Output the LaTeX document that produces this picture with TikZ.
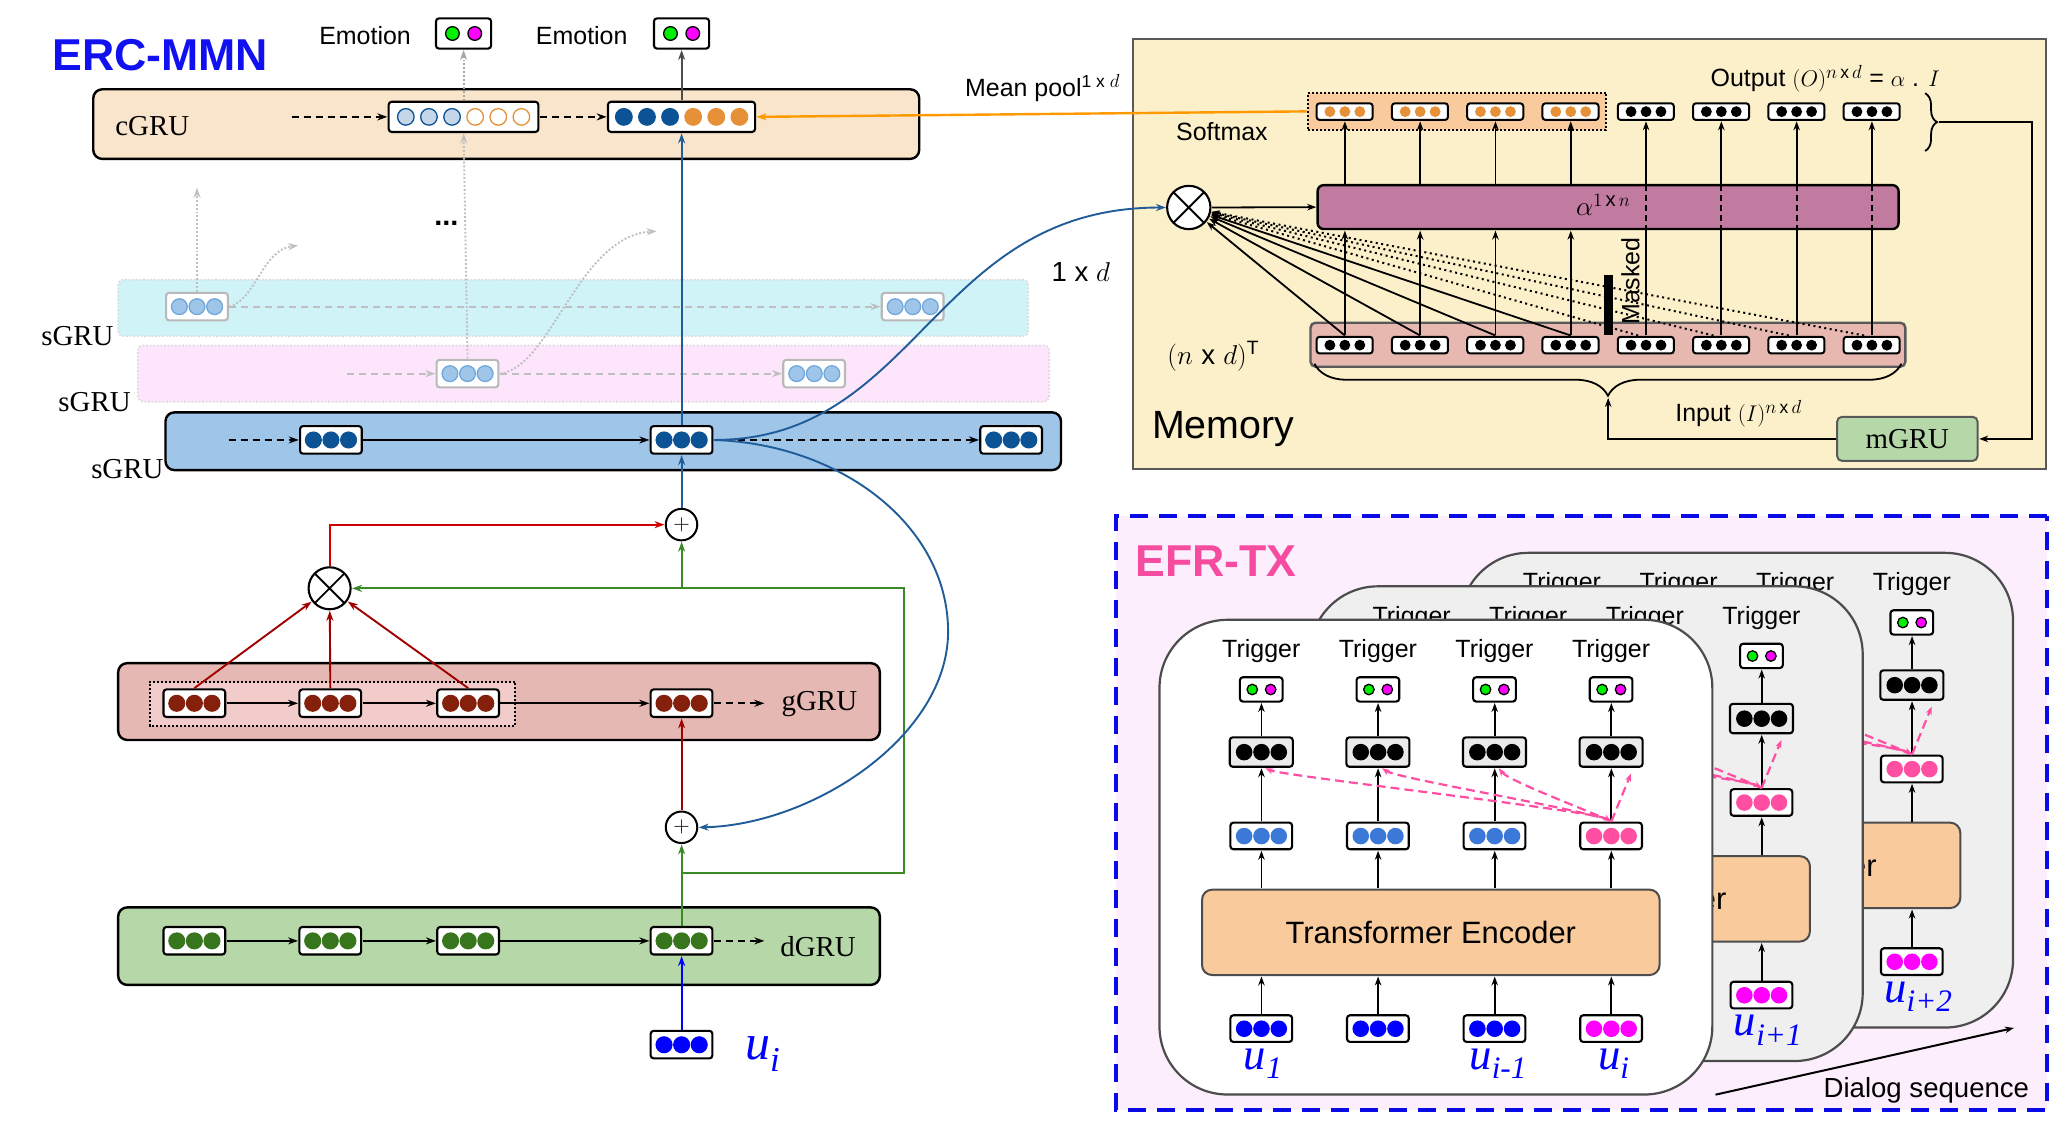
\documentclass[tikz,border=0pt]{standalone}
\usepackage{amsmath}
\usepackage{fontspec}
\setsansfont{Liberation Sans}
\newfontfamily\tms{Liberation Serif}
\usetikzlibrary{arrows.meta,calc,decorations.pathreplacing}
\definecolor{ercblue}{HTML}{1010F0}
\definecolor{cgruband}{HTML}{F9E4CC}
\definecolor{cyanband}{HTML}{CFF3F7}
\definecolor{pinkband}{HTML}{FDE6FB}
\definecolor{sgruband}{HTML}{9FC5E8}
\definecolor{ggruband}{HTML}{E6B8B3}
\definecolor{ggruin}{HTML}{F2CCCB}
\definecolor{dgruband}{HTML}{B6D7A8}
\definecolor{dblue}{HTML}{0B5394}
\definecolor{cblight}{HTML}{C5D6E8}
\definecolor{orng}{HTML}{E69138}
\definecolor{lbf}{HTML}{9FC5E8}
\definecolor{lbd}{HTML}{6FA8DC}
\definecolor{dred}{HTML}{85200C}
\definecolor{dgreen}{HTML}{38761D}
\definecolor{ublue}{HTML}{0000FF}
\definecolor{emogreen}{HTML}{00F000}
\definecolor{emomag}{HTML}{FF00FF}
\definecolor{linkblue}{HTML}{1F5C99}
\definecolor{redline}{HTML}{D00000}
\definecolor{redarrow}{HTML}{A00000}
\definecolor{gline}{HTML}{3A8A26}
\definecolor{membg}{HTML}{FCF0CA}
\definecolor{memband}{HTML}{E6B8AF}
\definecolor{softbg}{HTML}{F9CB9C}
\definecolor{alphac}{HTML}{C27BA0}
\definecolor{mgruc}{HTML}{B6D7A8}
\definecolor{orangeline}{HTML}{FF9900}
\definecolor{efrbg}{HTML}{FDEEFD}
\definecolor{efrblue}{HTML}{0A0AE6}
\definecolor{efrpink}{HTML}{F54CA0}
\definecolor{panelgray}{HTML}{EFEFEF}
\definecolor{tecol}{HTML}{F9CB9C}
\definecolor{trblue}{HTML}{3C78D8}
\definecolor{trpink}{HTML}{FF4FA3}
\definecolor{blkfill}{HTML}{EBEBEB}

\newcommand\dotcell[7]{%
  \node[#3] (#1) at (#2) {};
  \foreach \dcf/\dcd [count=\dci] in {#7}{%
    \filldraw[fill=\dcf, draw=\dcd, line width=1.3pt]
      ($(#1.center)+({(\dci-(#4+1)/2)*#5},0)$) circle[radius=#6];
  }%
}

\newcommand\efrpanel[5]{%
\begin{scope}[shift={(#2,#3)}]
  \node[panelbox, fill=#4] (#1pan) at (1093.5,652.75) {};
  \node[tebox] (#1te) at (1089.6,710) {Transformer Encoder};
  \foreach \k in {1,...,4}{%
    \pgfmathsetmacro\xk{960.5+88.8*(\k-1)}%
    \node[sflab] (#1tl\k) at (\xk,496) {Trigger};
    \dotcell{#1tr\k}{\xk,525}{trcell}{2}{14}{4}{emogreen/black,emomag/black}
    \dotcell{#1bk\k}{\xk,572.7}{bkcell}{3}{13.2}{5.8}{black/black,black/black,black/black}
    \ifnum\k<4
      \dotcell{#1md\k}{\xk,636.6}{ecell}{3}{13.2}{5.8}{trblue/trblue,trblue/trblue,trblue/trblue}
      \dotcell{#1in\k}{\xk,783.3}{ecell}{3}{13.2}{5.8}{ublue/ublue,ublue/ublue,ublue/ublue}
    \else
      \dotcell{#1md\k}{\xk,636.6}{ecell}{3}{13.2}{5.8}{trpink/trpink,trpink/trpink,trpink/trpink}
      \dotcell{#1in\k}{\xk,783.3}{ecell}{3}{13.2}{5.8}{emomag/emomag,emomag/emomag,emomag/emomag}
    \fi
    \draw[parr] (#1in\k.north) -- (#1in\k.north |- #1te.south);
    \draw[parr] (#1md\k.south |- #1te.north) -- (#1md\k.south);
    \draw[parr] (#1md\k.north) -- (#1bk\k.south);
    \draw[parr] (#1bk\k.north) -- (#1tr\k.south);
  }
  \draw[pdash, {Stealth[length=8pt,width=6pt]}-{Stealth[length=8pt,width=6pt]}] (#1md4.north) .. controls +(-14,-8) and +(14,6) .. ($(#1bk1.south)+(3,0)$);
  \draw[pdash, -{Stealth[length=8pt,width=6pt]}] (#1md4.north) .. controls +(-14,-8) and +(12,8) .. ($(#1bk2.south)+(3,0)$);
  \draw[pdash, -{Stealth[length=8pt,width=6pt]}] (#1md4.north) .. controls +(-12,-6) and +(8,10) .. ($(#1bk3.south)+(3,0)$);
  \draw[pdash, -{Stealth[length=8pt,width=6pt]}] (#1md4.north) -- ($(#1bk4.south)+(15,4)$);
  #5
\end{scope}}

\begin{document}
\begin{tikzpicture}[x=1pt,y=-1pt,scale=1.3131,
 every node/.append style={transform shape},
 sflab/.style={font=\sffamily\fontsize{19}{22}\selectfont, inner sep=0pt},
 serlab/.style={font=\tms\fontsize{22}{26}\selectfont, inner sep=0pt},
 xband/.style={draw=black, line width=2.4pt, rounded corners=9pt, inner sep=0pt},
 lband/.style={draw=gray!30, dotted, line width=1.6pt, rounded corners=5pt, inner sep=0pt},
 xcell/.style={draw=black, fill=white, line width=2.1pt, rounded corners=3pt, inner sep=0pt},
 lcell/.style={xcell, minimum width=47, minimum height=21},
 gcell/.style={xcell, draw=gray!55, minimum width=47, minimum height=21},
 mcell/.style={xcell, line width=2pt, minimum width=42.7, minimum height=12.7},
 trcell/.style={xcell, minimum width=32.5, minimum height=18.5},
 bkcell/.style={xcell, fill=blkfill, minimum width=48, minimum height=22.4},
 ecell/.style={xcell, minimum width=47, minimum height=20.3},
 arr/.style={-{Stealth[length=10pt,width=7pt]}, line width=1.9pt},
 marr/.style={-{Stealth[length=9pt,width=6.5pt]}, line width=1.8pt},
 parr/.style={-{Stealth[length=9pt,width=6.5pt]}, line width=1.8pt},
 dsh/.style={dash pattern=on 7pt off 5pt},
 mdot/.style={line width=2pt, dash pattern=on 2pt off 3.5pt},
 pdash/.style={draw=trpink, line width=2.2pt, dash pattern=on 9pt off 5pt},
 plusn/.style={circle, draw=black, fill=white, minimum size=24, inner sep=0pt, line width=2pt, font=\fontsize{18}{18}\selectfont},
 otn/.style={circle, draw=black, fill=white, inner sep=0pt, line width=2.1pt,
   path picture={\draw[line width=1.9pt] (path picture bounding box.north west) -- (path picture bounding box.south east) (path picture bounding box.north east) -- (path picture bounding box.south west);}},
 panelbox/.style={draw=gray!60!black, line width=2.2pt, rounded corners=68pt, minimum width=421, minimum height=361.5, inner sep=0pt},
 tebox/.style={draw=gray!60!black, line width=2pt, fill=tecol, rounded corners=10pt, minimum width=348.4, minimum height=65, inner sep=0pt, font=\sffamily\fontsize{23.5}{28}\selectfont},
 ulab/.style={text=ublue, font=\tms\itshape\fontsize{34}{38}\selectfont, inner sep=0pt}
]
\fill[white] (0,0) rectangle (1568,857);
\useasboundingbox (0,0) rectangle (1568,857);

% ================= ERC-MMN =================
\node[font=\sffamily\bfseries\fontsize{34}{40}\selectfont, text=ercblue, inner sep=0pt] (title) at (122,42) {ERC-MMN};

\node[xband, fill=cgruband, minimum width=629, minimum height=53] (cband) at (385.5,94.5) {};
\node[lband, fill=cyanband, minimum width=693, minimum height=43] (cyb) at (436.5,234.5) {};
\node[lband, fill=pinkband, minimum width=694, minimum height=43] (pkb) at (452,284.5) {};
\node[xband, fill=sgruband, minimum width=682, minimum height=44] (sband) at (467,336) {};
\node[xband, fill=ggruband, minimum width=580, minimum height=58.5] (gband) at (380,534.25) {};
\node[draw=black, dotted, line width=2pt, fill=ggruin, minimum width=278, minimum height=34, inner sep=0pt] (gin) at (253,536) {};
\node[xband, fill=dgruband, minimum width=580, minimum height=59] (dband) at (380,720.5) {};

\node[serlab] (cgrul) at (116,96) {cGRU};
\node[serlab] (sl1) at (59,256) {sGRU};
\node[serlab] (sl2) at (72,306) {sGRU};
\node[serlab] (sl3) at (97,357) {sGRU};
\node[serlab] (ggrul) at (624,536) {gGRU};
\node[serlab] (dgrul) at (623,721) {dGRU};

\node[sflab] (emol1) at (278,27) {Emotion};
\node[sflab] (emol2) at (443,27) {Emotion};
\dotcell{emo1}{353,25.5}{xcell, minimum width=42, minimum height=23}{2}{17}{5.2}{emogreen/black,emomag/black}
\dotcell{emo2}{519,25.5}{xcell, minimum width=42, minimum height=23}{2}{17}{5.2}{emogreen/black,emomag/black}

\dotcell{c1}{353,89}{xcell, minimum width=114, minimum height=23}{6}{17.6}{6.3}{cblight/dblue,cblight/dblue,cblight/dblue,white/orng,white/orng,white/orng}
\dotcell{c2}{519,89}{xcell, minimum width=112, minimum height=23}{6}{17.6}{6.3}{dblue/dblue,dblue/dblue,dblue/dblue,orng/orng,orng/orng,orng/orng}

\dotcell{sc1}{150,233.5}{gcell}{3}{13.4}{6}{lbf/lbd,lbf/lbd,lbf/lbd}
\dotcell{sc2}{695,233.5}{gcell}{3}{13.4}{6}{lbf/lbd,lbf/lbd,lbf/lbd}
\dotcell{sp1}{356,284.5}{gcell}{3}{13.4}{6}{lbf/lbd,lbf/lbd,lbf/lbd}
\dotcell{sp2}{620,284.5}{gcell}{3}{13.4}{6}{lbf/lbd,lbf/lbd,lbf/lbd}

\dotcell{s1}{252,335}{lcell}{3}{13.4}{6}{dblue/dblue,dblue/dblue,dblue/dblue}
\dotcell{s2}{519,335}{lcell}{3}{13.4}{6}{dblue/dblue,dblue/dblue,dblue/dblue}
\dotcell{s3}{770,335}{lcell}{3}{13.4}{6}{dblue/dblue,dblue/dblue,dblue/dblue}

\dotcell{g1}{148,535.5}{lcell}{3}{13.4}{6}{dred/dred,dred/dred,dred/dred}
\dotcell{g2}{251.5,535.5}{lcell}{3}{13.4}{6}{dred/dred,dred/dred,dred/dred}
\dotcell{g3}{356.5,535.5}{lcell}{3}{13.4}{6}{dred/dred,dred/dred,dred/dred}
\dotcell{g4}{519,535.5}{lcell}{3}{13.4}{6}{dred/dred,dred/dred,dred/dred}

\dotcell{d1}{148,716.4}{lcell}{3}{13.4}{6}{dgreen/dgreen,dgreen/dgreen,dgreen/dgreen}
\dotcell{d2}{251.5,716.4}{lcell}{3}{13.4}{6}{dgreen/dgreen,dgreen/dgreen,dgreen/dgreen}
\dotcell{d3}{356.5,716.4}{lcell}{3}{13.4}{6}{dgreen/dgreen,dgreen/dgreen,dgreen/dgreen}
\dotcell{d4}{519,716.4}{lcell}{3}{13.4}{6}{dgreen/dgreen,dgreen/dgreen,dgreen/dgreen}

\dotcell{u}{519,795.5}{lcell}{3}{13.4}{6}{ublue/ublue,ublue/ublue,ublue/ublue}
\node[ulab, font=\tms\itshape\fontsize{38}{42}\selectfont] (ul) at (581,803) {u$_{\text{i}}$};

\node[plusn] (plusT) at (519,399.5) {$+$};
\node[plusn] (plusB) at (519,630) {$+$};
\node[otn, minimum size=32] (otL) at (251,448) {};

% cGRU connectors
\coordinate (c0) at (222,89);
\draw[arr, dsh] (c0) -- (c1.west);
\draw[arr, dsh] (c1.east) -- (c2.west);
\draw[arr, draw=gray!60!black] (c2.north) -- (emo2.south);
\draw[arr, draw=gray!70, dotted] (c1.north) -- (emo1.south);

% faded layers
\draw[arr, draw=gray!50, dotted] (sp1.north) -- (c1.south);
\coordinate (ga1) at (150,143);
\draw[arr, draw=gray!50, dotted] (sc1.north) -- (ga1);
\coordinate (ga2) at (227,187);
\draw[arr, draw=gray!50, dotted] (sc1.east) .. controls (195,228) and (200,190) .. (ga2);
\coordinate (ga3) at (500,176);
\draw[arr, draw=gray!50, dotted] (sp1.east) .. controls (420,280) and (440,180) .. (ga3);
\node[font=\sffamily\bfseries\fontsize{22}{24}\selectfont, inner sep=0pt] (ddd) at (340,170) {...};
\draw[arr, draw=gray!50, dsh] (sc1.east) -- (sc2.west);
\coordinate (sp0) at (264,284.5);
\draw[arr, draw=gray!50, dsh] (sp0) -- (sp1.west);
\draw[arr, draw=gray!50, dsh] (sp1.east) -- (sp2.west);

% sGRU
\coordinate (s0) at (174,335);
\draw[arr, dsh] (s0) -- (s1.west);
\draw[arr] (s1.east) -- (s2.west);
\draw[arr, dsh] (s2.east) -- (s3.west);
\draw[arr, draw=linkblue] (s2.north) -- (c2.south);
\draw[arr, draw=linkblue] (plusT.north) -- (s2.south);

% gGRU / dGRU
\draw[arr] (g1.east) -- (g2.west);
\draw[arr] (g2.east) -- (g3.west);
\draw[arr] (g3.east) -- (g4.west);
\coordinate (gd) at (582,535.5);
\draw[arr, dsh] (g4.east) -- (gd);
\draw[arr] (d1.east) -- (d2.west);
\draw[arr] (d2.east) -- (d3.west);
\draw[arr] (d3.east) -- (d4.west);
\coordinate (dd) at (582,716.4);
\draw[arr, dsh] (d4.east) -- (dd);

\draw[arr, draw=ublue] (u.north) -- (d4.south);
\draw[arr, draw=gline] (d4.north) -- (plusB.south);
\draw[arr, draw=redarrow] (plusB.north) -- (g4.south);
\draw[arr, draw=redarrow] (g1.north) -- (otL);
\draw[arr, draw=redarrow] (g2.north) -- (otL);
\draw[arr, draw=redarrow] (g3.north) -- (otL);
\draw[arr, draw=redline] (otL.north) |- (plusT.west);
\coordinate (gj1) at (519,665);
\coordinate (gj2) at (688,665);
\draw[arr, draw=gline] (gj1) -- (gj2) |- (otL.east);
\draw[arr, draw=gline] (plusT.south |- otL.east) -- (plusT.south);

% ================= Memory =================
\node[draw=gray!70!black, line width=2.2pt, fill=membg, minimum width=695, minimum height=327, inner sep=0pt] (mem) at (1210.5,193.5) {};
\node[draw=black, dotted, line width=2pt, fill=softbg, minimum width=227, minimum height=28.5, inner sep=0pt] (orect) at (1109.4,84.8) {};
\node[xband, draw=gray!70!black, fill=memband, rounded corners=5pt, minimum width=453, minimum height=33.5] (mband) at (1224.5,262.5) {};
\node[xband, fill=alphac, rounded corners=6pt, minimum width=442.4, minimum height=33.4] (alpha) at (1224.6,157.7) {};
\node[font=\fontsize{22}{26}\selectfont, inner sep=0pt] (alphal) at (1221,156) {$\alpha^{1\,\textsf{x}\,n}$};
\foreach \k in {1,...,4}{\dotcell{mt\k}{{1024+57.33*(\k-1)},85}{mcell}{3}{11.4}{3.6}{orng/orng,orng/orng,orng/orng}}
\foreach \k in {5,...,8}{\dotcell{mt\k}{{1024+57.33*(\k-1)},85}{mcell}{3}{11.4}{3.6}{black/black,black/black,black/black}}
\foreach \k in {1,...,8}{\dotcell{mb\k}{{1024+57.33*(\k-1)},262.8}{mcell}{3}{11.4}{3.6}{black/black,black/black,black/black}}
\node[otn, minimum size=33] (otM) at (905.3,158) {};
\draw[marr] (otM.east) -- (alpha.west);
\foreach \k in {1,...,4}{
  \draw[marr] (mb\k.north) -- (mb\k.north |- alpha.south);
  \draw[marr] (mb\k.north |- alpha.north) -- (mt\k.south);
  \draw[marr] (mb\k.north) -- (otM);
}
\foreach \k in {5,...,8}{
  \draw[line width=1.8pt] (mb\k.north) -- (mb\k.north |- alpha.south);
  \draw[line width=1.8pt, dash pattern=on 6pt off 4pt] (mb\k.north |- alpha.south) -- (mb\k.north |- alpha.north);
  \draw[marr] (mb\k.north |- alpha.north) -- (mt\k.south);
  \draw[mdot, -{Stealth[length=8pt,width=6pt]}] ($(mb\k.north)+(-6,0)$) -- (otM);
}
\node[fill=black, minimum width=7, minimum height=45.5, inner sep=0pt] (mbar) at (1225,232.3) {};
\node[sflab, rotate=90] (maskl) at (1241.7,214) {Masked};
\node[sflab] (softl) at (930.5,100) {Softmax};
\node[sflab] (outl) at (1390,60) {Output $(O)^{n\,\textsf{x}\,d}$ = $\alpha$ . $I$};
\node[font=\fontsize{21}{24}\selectfont, inner sep=0pt] (ndl) at (924,271) {$(n$ \textsf{x} $d)^{\textsf{T}}$};
\node[sflab] (inl) at (1324,315) {Input $(I)^{n\,\textsf{x}\,d}$};
\node[font=\sffamily\fontsize{30}{34}\selectfont, inner sep=0pt] (meml) at (931.5,327) {Memory};
\node[draw=gray!70!black, line width=2pt, fill=mgruc, rounded corners=5pt, minimum width=107, minimum height=33.6, inner sep=0pt, font=\tms\fontsize{22}{26}\selectfont] (mgru) at (1452.5,334.2) {mGRU};
\draw[decorate, decoration={brace, amplitude=12pt}, line width=1.8pt] (1466,71) -- (1466,115);
\coordinate (rbtip) at (1476,93);
\coordinate (rbc) at (1547,93);
\draw[marr] (rbtip) -- (rbc) |- (mgru.east);
\draw[decorate, decoration={brace, amplitude=32pt}, line width=1.8pt] (1448,277) -- (1001,277);
\coordinate (bbtip) at (1224.5,303);
\draw[marr] (mgru.west) -| (bbtip);

% cross connections
\draw[arr, draw=orangeline, line width=2.4pt] (orect.west) -- (c2.east);
\node[sflab] (mpl) at (794,67) {Mean pool$^{\textsf{1 x }d}$};
\node[font=\sffamily\fontsize{21}{24}\selectfont, inner sep=0pt] (oxd) at (823,207) {1 x $d$};
\draw[arr, draw=linkblue] (s2.east) .. controls (700,335) and (710,158) .. (otM.west);
\draw[arr, draw=linkblue] (s2.east) .. controls (640,338) and (722,400) .. (722,481) .. controls (722,560) and (620,628) .. (plusB.east);

% ================= EFR-TX =================
\node[draw=efrblue, line width=4pt, dash pattern=on 18pt off 11pt, fill=efrbg, minimum width=708.8, minimum height=452.4, inner sep=0pt] (efr) at (1204.4,619.2) {};
\efrpanel{b}{229}{-51}{panelgray}{\node[ulab] (bu4) at (1232,810) {u$_{\text{i+2}}$};}
\efrpanel{m}{114.5}{-25.5}{panelgray}{\node[ulab] (mu4) at (1232,810) {u$_{\text{i+1}}$};}
\efrpanel{f}{0}{0}{white}{%
  \node[ulab] (fu1) at (962,810) {u$_{\text{1}}$};
  \node[ulab] (fu3) at (1141,810) {u$_{\text{i-1}}$};
  \node[ulab] (fu4) at (1229,810) {u$_{\text{i}}$};}
\node[font=\sffamily\bfseries\fontsize{34}{40}\selectfont, text=efrpink, inner sep=0pt] (efrl) at (926,427.5) {EFR-TX};
\coordinate (dsA) at (1306.2,833.5);
\coordinate (dsB) at (1533.4,782.7);
\draw[parr, line width=2pt] (dsA) -- (dsB);
\node[font=\sffamily\fontsize{21}{24}\selectfont, inner sep=0pt] (dsl) at (1467,830) {Dialog sequence};
\end{tikzpicture}
\end{document}
